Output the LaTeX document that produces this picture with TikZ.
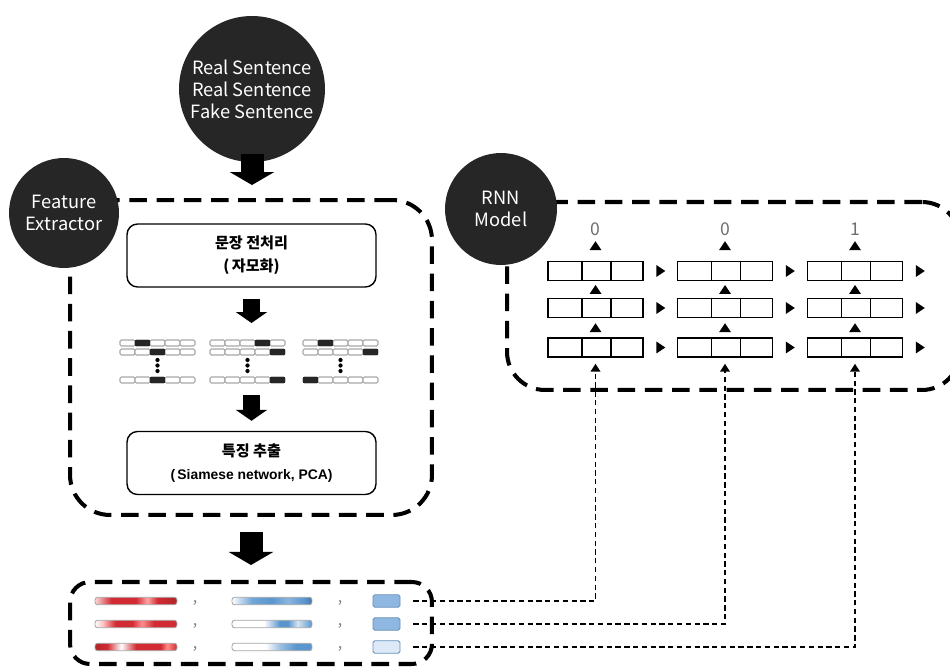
\documentclass[tikz,border=0pt]{standalone}
\usepackage{fontspec}
\setmainfont{Noto Sans CJK KR}
\newfontfamily\hangul{Noto Sans CJK KR}
\newfontfamily\arial{Liberation Sans}
\usetikzlibrary{arrows.meta,positioning,calc}
\definecolor{DiscDark}{HTML}{262626}
\definecolor{VecRed}{HTML}{D22B33}
\definecolor{VecBlue}{HTML}{5A95CF}
\definecolor{SqBlue}{HTML}{8EB8E2}
\definecolor{SqPale}{HTML}{DDE9F6}
\definecolor{LabelGray}{HTML}{6E6E6E}
\definecolor{CellGray}{HTML}{A8A8A8}

% bar shadings, visible part runs from 25bp to 75bp
\pgfdeclarehorizontalshading{redA}{100bp}{color(0bp)=(red!15); color(25bp)=(red!15); color(30bp)=(VecRed!60); color(35bp)=(VecRed); color(50bp)=(VecRed); color(57bp)=(red!35); color(63bp)=(VecRed); color(75bp)=(VecRed!85!black); color(100bp)=(VecRed!85!black)}
\pgfdeclarehorizontalshading{redB}{100bp}{color(0bp)=(white); color(25bp)=(white); color(30bp)=(red!25); color(37.5bp)=(VecRed); color(47.5bp)=(VecRed); color(53.5bp)=(red!45); color(61bp)=(VecRed); color(75bp)=(VecRed); color(100bp)=(VecRed)}
\pgfdeclarehorizontalshading{redC}{100bp}{color(0bp)=(VecRed!85!black); color(25bp)=(VecRed!85!black); color(32.5bp)=(VecRed); color(41bp)=(white); color(50bp)=(VecRed); color(65bp)=(VecRed); color(69bp)=(red!45); color(75bp)=(VecRed); color(100bp)=(VecRed)}
\pgfdeclarehorizontalshading{blueA}{100bp}{color(0bp)=(white); color(25bp)=(white); color(29bp)=(VecBlue!30); color(37.5bp)=(VecBlue!85); color(50bp)=(VecBlue); color(60bp)=(VecBlue!70); color(70bp)=(VecBlue); color(75bp)=(VecBlue!80!black); color(100bp)=(VecBlue!80!black)}
\pgfdeclarehorizontalshading{blueB}{100bp}{color(0bp)=(white); color(25bp)=(white); color(45bp)=(white); color(55bp)=(VecBlue); color(60bp)=(VecBlue); color(66bp)=(VecBlue!25); color(75bp)=(VecBlue); color(100bp)=(VecBlue)}
\pgfdeclarehorizontalshading{blueC}{100bp}{color(0bp)=(white); color(25bp)=(white); color(46bp)=(white); color(55bp)=(VecBlue!60); color(65bp)=(VecBlue); color(75bp)=(VecBlue); color(100bp)=(VecBlue)}

\begin{document}
\begin{tikzpicture}[
  x=0.02cm, y=-0.02cm,
  disc/.style={circle, fill=DiscDark, text=white, align=center, inner sep=0pt, font=\fontsize{10.4}{12.6}\selectfont},
  dashbox/.style={draw, line width=2.3pt, dash pattern=on 10pt off 5.5pt, rounded corners=#1, inner sep=0pt},
  stepbox/.style={draw, line width=0.8pt, rounded corners=6pt, minimum width=4.98cm, minimum height=1.26cm, align=center, font=\hangul\bfseries\fontsize{8.6}{13}\selectfont},
  bigarrow/.style={line width=0.46cm, -{Triangle[length=0.26cm, width=0.88cm]}},
  midarrow/.style={line width=0.34cm, -{Triangle[length=0.22cm, width=0.62cm]}},
  ohcell/.style={draw=CellGray, line width=0.6pt, fill=white, rounded corners=0.8pt},
  vbar/.style={shade, draw=gray!70, line width=0.5pt, rounded corners=1.5pt, minimum height=0.15cm, inner sep=0pt},
  vsq/.style={draw=VecBlue!70!gray, line width=0.5pt, rounded corners=1pt, minimum width=0.54cm, minimum height=0.25cm, inner sep=0pt},
  sepmark/.style={text=gray, font=\small, inner sep=0pt},
  rnncell/.style={draw, line width=0.9pt, minimum width=1.9cm, minimum height=0.38cm, inner sep=0pt},
  digit/.style={text=LabelGray, font=\fontsize{10}{12}\selectfont, inner sep=0pt},
  link/.style={line width=0.9pt, dash pattern=on 3pt off 2pt, -{Triangle[length=4.5pt, width=5.5pt]}},
  uptri/.pic={\fill (-6,4.5) -- (6,4.5) -- (0,-4.5) -- cycle;},
  rtri/.pic={\fill (-4.5,-6) -- (-4.5,6) -- (4.5,0) -- cycle;}
]
  \useasboundingbox (0,0) rectangle (950,668);
  \clip (0,0) rectangle (950,668);

  % dashed frames
  \node[dashbox=0.8cm, minimum width=7.24cm, minimum height=6.3cm] (febox) at (251,357.5) {};
  \node[dashbox=0.76cm, minimum width=9.06cm, minimum height=3.76cm] (rnnbox) at (733.5,296) {};
  \node[dashbox=0.4cm, minimum width=7.24cm, minimum height=1.64cm] (vecbox) at (251,623) {};

  % black discs
  \node[disc, minimum size=2.92cm] (sent) at (252,89) {Real Sentence\\Real Sentence\\Fake Sentence};
  \node[disc, minimum size=2.2cm] (fe) at (64,213) {Feature\\Extractor};
  \node[disc, minimum size=2.24cm] (rnn) at (501,209) {RNN\\Model};

  % feature extractor steps
  \node[stepbox] (prep) at (251.5,255.5) {문장 전처리\\(\,자모화)};
  \node[stepbox] (feat) at (251.5,463) {특징 추출\\{\arial\bfseries\fontsize{7.9}{13}\selectfont(\,Siamese network, PCA)}};

  % one-hot rows
  \coordinate (ohtop) at (251.5,340);
  \coordinate (ohbot) at (251.5,384);
  \foreach \gx/\ra/\rb/\rc in {120/2/3/3, 210/4/5/5, 303/2/5/1}{
    \foreach \yy/\hot in {340/\ra, 349/\rb, 377/\rc}{
      \foreach \k in {1,...,5}
        \draw[ohcell] ({\gx+15*(\k-1)},\yy) rectangle +(15,6);
      \fill[black!85] ({\gx+15*(\hot-1)},\yy) rectangle +(15,6);
    }
    \foreach \dy in {360,365.5,371}
      \fill ({\gx+37.5},\dy) circle[radius=1.2pt];
  }

  \draw[bigarrow] ([yshift=0.16cm]sent.south) -- ([yshift=0.26cm]sent.south |- febox.north);
  \draw[midarrow] ([yshift=-0.22cm]prep.south) -- ([yshift=0.34cm]ohtop);
  \draw[midarrow] ([yshift=-0.22cm]ohbot) -- ([yshift=0.2cm]feat.north);
  \draw[bigarrow] ([yshift=-0.3cm]febox.south) -- ([yshift=0.3cm]vecbox.north);

  % feature vectors
  \foreach \i/\yy/\rs/\bs/\sq in {1/601/redA/blueA/SqBlue, 2/624/redB/blueB/SqBlue, 3/647/redC/blueC/SqPale}{
    \node[vbar, shading=\rs, minimum width=1.64cm] (red\i) at (136,\yy) {};
    \node[vbar, shading=\bs, minimum width=1.6cm] (blue\i) at (272,\yy) {};
    \node[vsq, fill=\sq] (sq\i) at (386.5,\yy) {};
    \node[sepmark] (ca\i) at (195,\yy+2) {,};
    \node[sepmark] (cb\i) at (340,\yy+2) {,};
  }

  % RNN cells
  \foreach \c/\cx/\lab in {1/595.5/0, 2/725/0, 3/855/1}{
    \foreach \r/\ry in {1/271, 2/308, 3/347.5}{
      \node[rnncell] (r-\c-\r) at (\cx,\ry) {};
      \draw[line width=0.9pt]
        ($(r-\c-\r.north west)!0.36!(r-\c-\r.north east)$) -- ($(r-\c-\r.south west)!0.36!(r-\c-\r.south east)$)
        ($(r-\c-\r.north west)!0.66!(r-\c-\r.north east)$) -- ($(r-\c-\r.south west)!0.66!(r-\c-\r.south east)$);
      \pic at ($(r-\c-\r.east)+(17,0)$) {rtri};
    }
    \pic at ($(r-\c-1.south)!0.5!(r-\c-2.north)$) {uptri};
    \pic at ($(r-\c-2.south)!0.5!(r-\c-3.north)$) {uptri};
    \pic at ($(r-\c-1.north)+(0,-15)$) {uptri};
    \node[digit] (out\c) at ($(r-\c-1.north)+(0,-31)$) {\lab};
  }

  % links into the RNN
  \draw[link, shorten <=0.26cm, shorten >=0.12cm] (sq1.east) -| (r-1-3.south);
  \draw[link, shorten <=0.26cm, shorten >=0.12cm] (sq2.east) -| (r-2-3.south);
  \draw[link, shorten <=0.26cm, shorten >=0.12cm] (sq3.east) -| (r-3-3.south);
\end{tikzpicture}
\end{document}
